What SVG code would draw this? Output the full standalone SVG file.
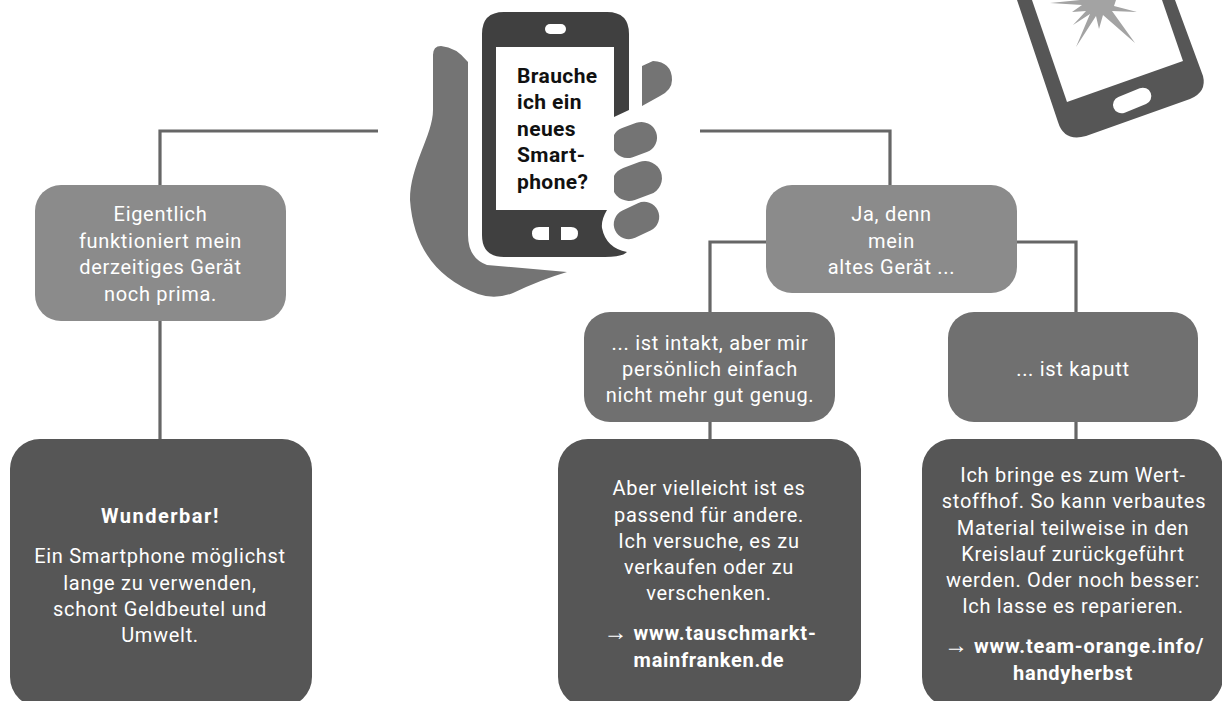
<svg xmlns="http://www.w3.org/2000/svg" width="1222" height="701" viewBox="0 0 1222 701">
<style>
.l{fill:#8b8b8b}.m{fill:#707070}.d{fill:#565656}
text{font-family:"Roboto","Liberation Sans",sans-serif;font-size:20px;fill:#fff;text-anchor:middle;letter-spacing:.7px}
.k{font-weight:700}
.a{font-weight:400;font-size:24px;letter-spacing:0}
.q{font-weight:700;fill:#111;text-anchor:start;font-size:21px;letter-spacing:.4px}
#conn path{fill:none;stroke:#666;stroke-width:3.2}
</style>
<rect width="1222" height="701" fill="#fff"/>
<g id="conn">
<path d="M378 131H160V185M160 321V440"/>
<path d="M700 131H890V185"/>
<path d="M766 242H710V312M710 422V440"/>
<path d="M1017 242H1076V312M1076 422V440"/>
</g>
<g id="icon-hand">
<path d="M433 55Q433 46 441 46Q456 47 468 62V235Q468 258 487 265L567 272Q540 280 513 293Q495 300 478 294Q415 270 410 200C410 165 433 135 433 110Z" fill="#747474"/>
<path d="M642 66L653 61Q672 62 672 80Q672 90 660 96L642 106Z" fill="#747474"/>
<rect x="611.500" y="124.500" width="46" height="31" rx="15.500" transform="rotate(-20 634.500 140)" fill="#747474"/>
<rect x="611.500" y="164" width="51" height="34" rx="17" transform="rotate(-20 637 181)" fill="#747474"/>
<rect x="613" y="205.500" width="47" height="30" rx="15" transform="rotate(-25 636.500 220.500)" fill="#747474"/>
</g>
<g id="icon-phone">
<path d="M482 34Q482 12 504 12H607Q629 12 629 34V110L614 117V210H607Q601 220 602 228Q606 248 627 252Q622 257 605 257H504Q482 257 482 235Z" fill="#404040"/>
<rect x="496" y="47" width="118" height="163" fill="#fff"/>
<rect x="545" y="24" width="21" height="10" rx="5" fill="#fff"/>
<path d="M549 227V240H539Q532 240 532 233.500Q532 227 539 227ZM561 227H571Q578 227 578 233.500Q578 240 571 240H561Z" fill="#fff"/>
<text class="q" x="517" y="83">Brauche</text>
<text class="q" x="517" y="109">ich ein</text>
<text class="q" x="517" y="136">neues</text>
<text class="q" x="517" y="162">Smart-</text>
<text class="q" x="517" y="189">phone?</text>
</g>
<g id="icon-broken">
<path d="M1017 0L1058 122Q1064 142 1086 136L1190 99Q1207 92 1203 76L1175 0Z" fill="#565656"/>
<path d="M1032 0L1067 102L1183 61L1162 0Z" fill="#fff"/>
<rect x="1112" y="92" width="40" height="17" rx="8.500" transform="rotate(-22 1132 100)" fill="#fff"/>
<path d="M1050 3L1080 0H1116L1114 6L1137 12L1112 11L1135 43L1103 15L1099 29L1096 16L1076 47L1090 14L1073 25L1086 11L1072 12L1082 5Z" fill="#a3a3a3"/>
</g>
<g id="n1"><rect class="l" x="35" y="185" width="251" height="136" rx="26"/>
<text x="160.500" y="221">Eigentlich</text><text x="160.500" y="248">funktioniert mein</text><text x="160.500" y="274">derzeitiges Gerät</text><text x="160.500" y="301">noch prima.</text></g>
<g id="n2"><rect class="l" x="766" y="185" width="251" height="108" rx="26"/>
<text x="891.500" y="221">Ja, denn</text><text x="891.500" y="248">mein</text><text x="891.500" y="274">altes Gerät ...</text></g>
<g id="n3"><rect class="m" x="584" y="312" width="251" height="110" rx="26"/>
<text x="710" y="350">... ist intakt, aber mir</text><text x="710" y="376">persönlich einfach</text><text x="710" y="402">nicht mehr gut genug.</text></g>
<g id="n4"><rect class="m" x="948" y="312" width="250" height="110" rx="26"/>
<text x="1073" y="376">... ist kaputt</text></g>
<g id="n5"><rect class="d" x="10" y="439" width="302" height="268" rx="30"/>
<text class="k" x="160" y="523" textLength="118">Wunderbar!</text><text x="160" y="563">Ein Smartphone möglichst</text><text x="160" y="590">lange zu verwenden,</text><text x="160" y="616">schont Geldbeutel und</text><text x="160" y="642">Umwelt.</text></g>
<g id="n6"><rect class="d" x="558" y="439" width="303" height="268" rx="30"/>
<text x="709" y="495">Aber vielleicht ist es</text><text x="709" y="522">passend für andere.</text><text x="709" y="548">Ich versuche, es zu</text><text x="709" y="574">verkaufen oder zu</text><text x="709" y="600">verschenken.</text>
<text class="k" x="710" y="640" textLength="213"><tspan class="a">→</tspan> www.tauschmarkt-</text><text class="k" x="709" y="667">mainfranken.de</text></g>
<g id="n7"><rect class="d" x="922" y="439" width="301" height="268" rx="30"/>
<text x="1073" y="482">Ich bringe es zum Wert-</text><text x="1074" y="508">stoffhof. So kann verbautes</text><text x="1073" y="535">Material teilweise in den</text><text x="1073" y="561">Kreislauf zurückgeführt</text><text x="1073" y="587">werden. Oder noch besser:</text><text x="1073" y="613">Ich lasse es reparieren.</text>
<text class="k" x="1074" y="653" textLength="260"><tspan class="a">→</tspan> www.team-orange.info/</text><text class="k" x="1073" y="680">handyherbst</text></g>
</svg>
